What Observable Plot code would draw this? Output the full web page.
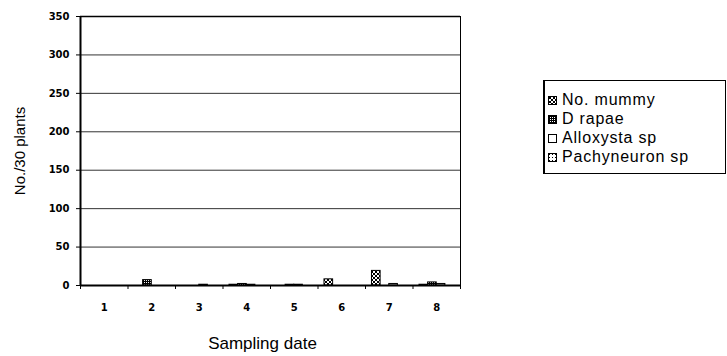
<!DOCTYPE html>
<html><head><meta charset="utf-8">
<script src="https://cdn.jsdelivr.net/npm/d3@7"></script>
<script src="https://cdn.jsdelivr.net/npm/@observablehq/plot@0.6"></script>
<style>
body{margin:0;background:#fff;}
#wrap{position:relative;width:727px;height:356px;font-family:"Liberation Sans",Arial,sans-serif;overflow:hidden;}
#legend{position:absolute;left:543px;top:80px;width:183px;height:94px;border:1px solid #000;border-left-width:2px;background:#fff;box-sizing:border-box;}
.item{position:absolute;left:3px;font-size:16px;letter-spacing:0.8px;line-height:18px;display:flex;align-items:center;color:#000;white-space:nowrap;}
.item svg{margin-right:5px;}
</style></head><body><div id="wrap"></div>
<script>
const dates = [1, 2, 3, 4, 5, 6, 7, 8];
const seriesNames = ["No. mummy", " D rapae", "Alloxysta sp", "Pachyneuron sp"];
const mummy = [0, 0, 0, 1, 0, 8, 19, 1];
const rapae = [0, 7, 0, 2, 1, 0, 0, 4];
const alloxysta = [0, 0, 1, 1, 1, 0, 2, 2];
const pachyneuron = [0, 0, 0, 0, 0, 0, 0, 0];
const yTicks = [0, 50, 100, 150, 200, 250, 300, 350];

const seriesValues = [mummy, rapae, alloxysta, pachyneuron];
const gap = 1.5; // Excel gap width 150%
const slots = seriesValues.length + gap;
const rows = [];
seriesValues.forEach((vals, s) => {
  vals.forEach((v, i) => {
    const x1 = dates[i] - 0.5 + (gap / 2 + s) / slots;
    rows.push({s, date: dates[i], value: v, x1, x2: x1 + 1 / slots});
  });
});
const boundaries = [0.5, ...dates.map(d => d + 0.5)];

const barMarks = seriesValues.map((_, s) =>
  Plot.rectY(rows.filter(r => r.s === s && r.value > 0), {
    x1: "x1", x2: "x2", y: "value",
    fill: `url(#pat${s})`, stroke: "#000", strokeWidth: 1
  })
);

const chart = Plot.plot({
  width: 727, height: 356,
  marginLeft: 80, marginRight: 267, marginTop: 16, marginBottom: 71,
  style: {fontFamily: "DejaVu Sans, sans-serif", fontSize: "10px", fontWeight: "bold", background: "transparent", color: "#000"},
  x: {domain: [0.5, 8.5]},
  y: {domain: [0, 350]},
  marks: [
    Plot.ruleY(yTicks.filter(v => v > 0 && v < 350), {stroke: "#333", strokeWidth: 1}),
    Plot.ruleY([350], {stroke: "#000", strokeWidth: 1.5}),
    Plot.ruleX([8.5], {stroke: "#000", strokeWidth: 1}),
    ...barMarks,
    Plot.ruleX([0.5], {stroke: "#000", strokeWidth: 2}),
    Plot.ruleY([0], {stroke: "#000", strokeWidth: 2}),
    Plot.axisY(yTicks, {tickSize: 4, tickPadding: 7, label: null}),
    Plot.axisX(boundaries, {tickSize: 4, tickFormat: () => "", label: null}),
    Plot.axisX(dates, {tickSize: 0, tickPadding: 18, label: null}),
    Plot.text(["No./30 plants"], {frameAnchor: "left", dx: -60, rotate: -90, textAnchor: "middle", lineAnchor: "middle", fontSize: 15, fontWeight: "normal", fontFamily: "Liberation Sans, Arial, sans-serif"}),
    Plot.text(["Sampling date"], {frameAnchor: "bottom", dy: 58, dx: -8, textAnchor: "middle", lineAnchor: "middle", fontSize: 17, fontWeight: "normal", fontFamily: "Liberation Sans, Arial, sans-serif"})
  ]
});

const defs = `
<pattern id="pat0" width="4" height="4" patternUnits="userSpaceOnUse">
  <rect width="4" height="4" fill="#fff"/>
  <path d="M0,0L4,4M4,0L0,4" stroke="#000" stroke-width="1"/>
</pattern>
<pattern id="pat1" width="2" height="2" patternUnits="userSpaceOnUse">
  <rect width="2" height="2" fill="#000"/>
  <rect x="0" y="0" width="1" height="1" fill="#fff"/>
</pattern>
<pattern id="pat2" width="4" height="4" patternUnits="userSpaceOnUse">
  <rect width="4" height="4" fill="#fff"/>
</pattern>
<pattern id="pat3" width="3" height="3" patternUnits="userSpaceOnUse">
  <rect width="3" height="3" fill="#fff"/>
  <rect x="1" y="1" width="1" height="1" fill="#000"/>
</pattern>`;
d3.select(chart).insert("defs", ":first-child").html(defs);

const wrap = document.getElementById("wrap");
wrap.appendChild(chart);

const legend = document.createElement("div");
legend.id = "legend";
seriesNames.forEach((name, s) => {
  const item = document.createElement("div");
  item.className = "item";
  item.style.top = (10 + s * 19) + "px";
  item.innerHTML = `<svg width="9" height="9"><rect x="0.5" y="0.5" width="8" height="8" fill="url(#pat${s})" stroke="#000"/></svg><span></span>`;
  item.querySelector("span").textContent = name;
  legend.appendChild(item);
});
wrap.appendChild(legend);
</script>
</body></html>
